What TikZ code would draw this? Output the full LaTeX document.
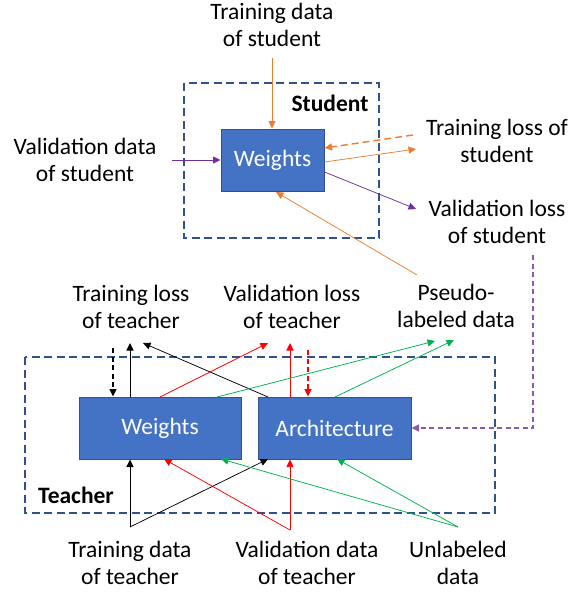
\documentclass[tikz,border=0pt]{standalone}
\usepackage{fontspec}
\setmainfont{Carlito}
\usetikzlibrary{arrows.meta,calc}
\definecolor{boxblue}{HTML}{4472C4}
\definecolor{edgeblue}{HTML}{2F528F}
\definecolor{orng}{HTML}{ED7D31}
\definecolor{purp}{HTML}{7030A0}
\definecolor{grn}{HTML}{00B050}
\definecolor{rd}{HTML}{FF0000}
\begin{document}
\begin{tikzpicture}[x=1pt,y=-1pt,
  txt/.style={inner sep=0pt,align=center,font=\fontsize{23.5pt}{27.5pt}\selectfont},
  bold/.style={inner sep=0pt,font=\fontsize{23.5pt}{27.5pt}\selectfont\bfseries},
  blk/.style={draw=edgeblue,line width=1pt,fill=boxblue,text=white,inner sep=0pt,
    font=\fontsize{23.5pt}{27.5pt}\selectfont},
  frame/.style={draw=edgeblue,line width=2pt,dash pattern=on 8pt off 4.5pt},
  arr/.style={line width=0.75pt,-{Triangle[length=7.5pt,width=7pt]}},
  dsh/.style={line width=1.2pt,dash pattern=on 5pt off 3.5pt}]
\useasboundingbox (0,0) rectangle (572,592);
% frames
\draw[frame] (184,83) rectangle (379,238);
\draw[frame] (25,357) rectangle (495,513);
% boxes
\node[blk,minimum width=103pt,minimum height=62pt] (sw) at (272.5,160) {Weights};
\node[blk,minimum width=162pt,minimum height=62pt] (tw) at (160,428) {Weights};
\node[blk,minimum width=153pt,minimum height=62pt] (ta) at (334.5,428) {Architecture};
% labels
\node[bold] (stl) at (330,103) {Student};
\node[bold] (ttl) at (76,495) {Teacher};
\node[txt] (tds) at (272,25) {Training data\\of student};
\node[txt] (vds) at (85,160) {Validation data\\of student};
\node[txt] (tls) at (497,141) {Training loss of\\student};
\node[txt] (vls) at (497,222) {Validation loss\\of student};
\node[txt] (tlt) at (131,307) {Training loss\\of teacher};
\node[txt] (vlt) at (292,307) {Validation loss\\of teacher};
\node[txt] (pld) at (456,306) {Pseudo-\\labeled data};
\node[txt] (tdt) at (130,563) {Training data\\of teacher};
\node[txt] (vdt) at (307,563) {Validation data\\of teacher};
\node[txt] (ud) at (458,563) {Unlabeled\\data};
% free ends
\coordinate (c1) at (272,58);
\coordinate (c2) at (172,160);
\coordinate (c3) at (413,135);
\coordinate (c4) at (416,149);
\coordinate (c5) at (416,209);
\coordinate (c6) at (417,275);
\coordinate (c7) at (533,255);
\coordinate (c7b) at (533,428);
\coordinate (c8) at (113,348);
\coordinate (c9) at (130,343);
\coordinate (c10) at (143,343);
\coordinate (c11) at (268,343);
\coordinate (c12) at (290,343);
\coordinate (c13) at (308,350);
\coordinate (c14) at (435,341);
\coordinate (c15) at (454,340);
\coordinate (tA) at (130,527);
\coordinate (vA) at (290,530);
\coordinate (uA) at (458,527);
% student arrows
\draw[arr,orng] (c1) -- (c1 |- sw.north);
\draw[arr,purp] (c2) -- (sw.west);
\draw[arr,orng,line width=1.4pt,dash pattern=on 7pt off 4pt] (c3) -- (sw.east |- 0,148);
\draw[arr,orng] (sw.east |- 0,162) -- (c4);
\draw[arr,purp] (sw.east |- 0,172) -- (c5);
\draw[arr,orng] (c6) -- (276,192);
\draw[arr,purp!80,dsh] (c7) -- (c7b) -- (ta.east);
% teacher top arrows
\draw[arr,black,dsh] (c8) -- (c8 |- tw.north);
\draw[arr,black,line width=1pt] (c9 |- tw.north) -- (c9);
\draw[arr,black] (268,397) -- (c10);
\draw[arr,rd] (160,397) -- (c11);
\draw[arr,rd,line width=1pt] (c12 |- ta.north) -- (c12);
\draw[arr,rd,dsh] (c13) -- (c13 |- ta.north);
\draw[arr,grn] (217,397) -- (c14);
\draw[arr,grn] (335,397) -- (c15);
% teacher bottom arrows
\draw[arr,black,line width=1pt] (tA) -- (tA |- tw.south);
\draw[arr,black] (tA) -- (268,459);
\draw[arr,rd] (vA) -- (vA |- ta.south);
\draw[arr,rd] (vA) -- (164,459);
\draw[arr,grn] (uA) -- (221,459);
\draw[arr,grn] (uA) -- (337,459);
\end{tikzpicture}
\end{document}
